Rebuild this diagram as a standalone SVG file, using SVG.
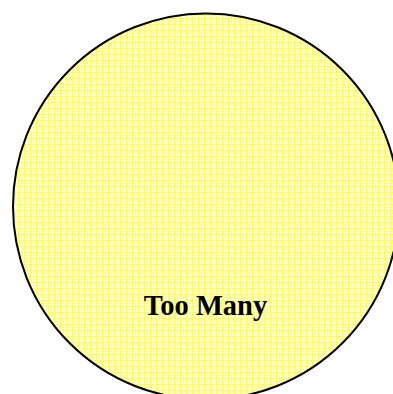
<svg xmlns="http://www.w3.org/2000/svg" width="393" height="394" viewBox="0 0 393 394">
  <style>
    .node-shape { fill: url(#plaid); stroke: #000000; stroke-width: 2; }
    .label { font-family: "Liberation Serif", "DejaVu Serif", serif; font-weight: bold; font-size: 28.5px; fill: #000000; }
  </style>
  <defs>
    <pattern id="plaid" x="0" y="0" width="6" height="6" patternUnits="userSpaceOnUse">
      <rect x="0" y="0" width="6" height="6" fill="#fffff4"/>
      <rect x="0" y="0" width="6" height="1" fill="#ffff50"/>
      <rect x="0" y="3" width="6" height="1" fill="#ffff99"/>
      <rect x="0" y="0" width="1" height="6" fill="#ffff50"/>
      <rect x="3" y="0" width="1" height="6" fill="#ffff99"/>
      <rect x="1" y="1" width="2" height="2" fill="#ffffc8" opacity="0.6"/>
      <rect x="4" y="4" width="2" height="2" fill="#ffffc8" opacity="0.6"/>
    </pattern>
  </defs>
  <g id="node-too-many">
    <circle class="node-shape" cx="206" cy="206.5" r="193"/>
    <text class="label" x="205.5" y="315" text-anchor="middle">Too Many</text>
  </g>
  <g id="connectors"></g>
</svg>
